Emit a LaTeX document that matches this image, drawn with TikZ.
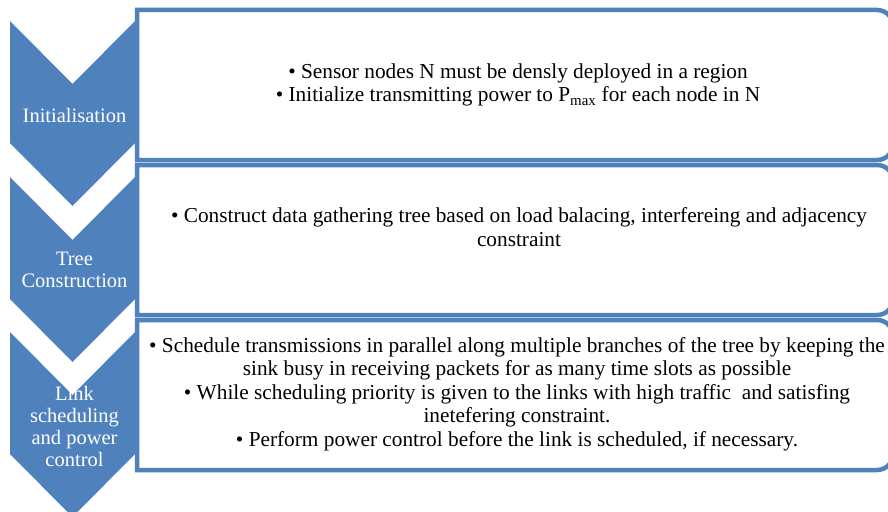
\documentclass[tikz,border=0pt]{standalone}
\usepackage{fontspec}
\setmainfont{Liberation Serif}
\definecolor{accent}{HTML}{4F81BD}
\begin{document}
\begin{tikzpicture}[x=1pt,y=-1pt,
  chev/.style={fill=accent},
  panel/.style={draw=accent,line width=4.5pt,fill=white},
  chevtext/.style={text=white,align=center,font=\fontsize{20.5}{22}\selectfont,inner sep=0pt},
  bodytext/.style={align=center,font=\fontsize{21.3}{23.6}\selectfont,inner sep=0pt}]
\useasboundingbox (0,0) rectangle (888,511);
\clip (0,0) rectangle (888,511);
% panels
\draw[panel] (137,10) -- (877,10) .. controls (886,10) and (893,17) .. (893,26) -- (893,144) .. controls (893,153) and (886,160) .. (877,160) -- (137,160) -- cycle;
\draw[panel] (137,165) -- (877,165) .. controls (886,165) and (893,172) .. (893,181) -- (893,299) .. controls (893,308) and (886,315) .. (877,315) -- (137,315) -- cycle;
\draw[panel] (137,320) -- (877,320) .. controls (886,320) and (893,327) .. (893,336) -- (893,454) .. controls (893,463) and (886,470) .. (877,470) -- (137,470) -- cycle;
% chevrons
\fill[chev] (10,21) -- (72.5,84) -- (135,21) -- (135,143) -- (72.5,206) -- (10,143) -- cycle;
\fill[chev] (10,177) -- (72.5,240) -- (135,177) -- (135,299) -- (72.5,362) -- (10,299) -- cycle;
\fill[chev] (10,332) -- (72.5,395) -- (135,332) -- (135,454) -- (72.5,517) -- (10,454) -- cycle;
% chevron labels
\node[chevtext] (c1) at (74.5,115) {Initialisation};
\node[chevtext] (c2) at (74.5,270) {Tree\\Construction};
\node[chevtext] (c3) at (74.5,426) {Link\\scheduling\\and power\\control};
% panel texts
\node[bodytext] (t1) at (518,85) {\textbullet\ Sensor nodes N must be densly deployed in a region\\\textbullet\ Initialize transmitting power to P\textsubscript{max} for each node in N};
\node[bodytext] (t2) at (519,227) {\textbullet\ Construct data gathering tree based on load balacing, interfereing and adjacency\\constraint};
\node[bodytext] (t3) at (517,394) {\textbullet\ Schedule transmissions in parallel along multiple branches of the tree by keeping the\\sink busy in receiving packets for as many time slots as possible\\\textbullet\ While scheduling priority is given to the links with high traffic\ \ and satisfing\\inetefering constraint.\\\textbullet\ Perform power control before the link is scheduled, if necessary.};
\end{tikzpicture}
\end{document}
